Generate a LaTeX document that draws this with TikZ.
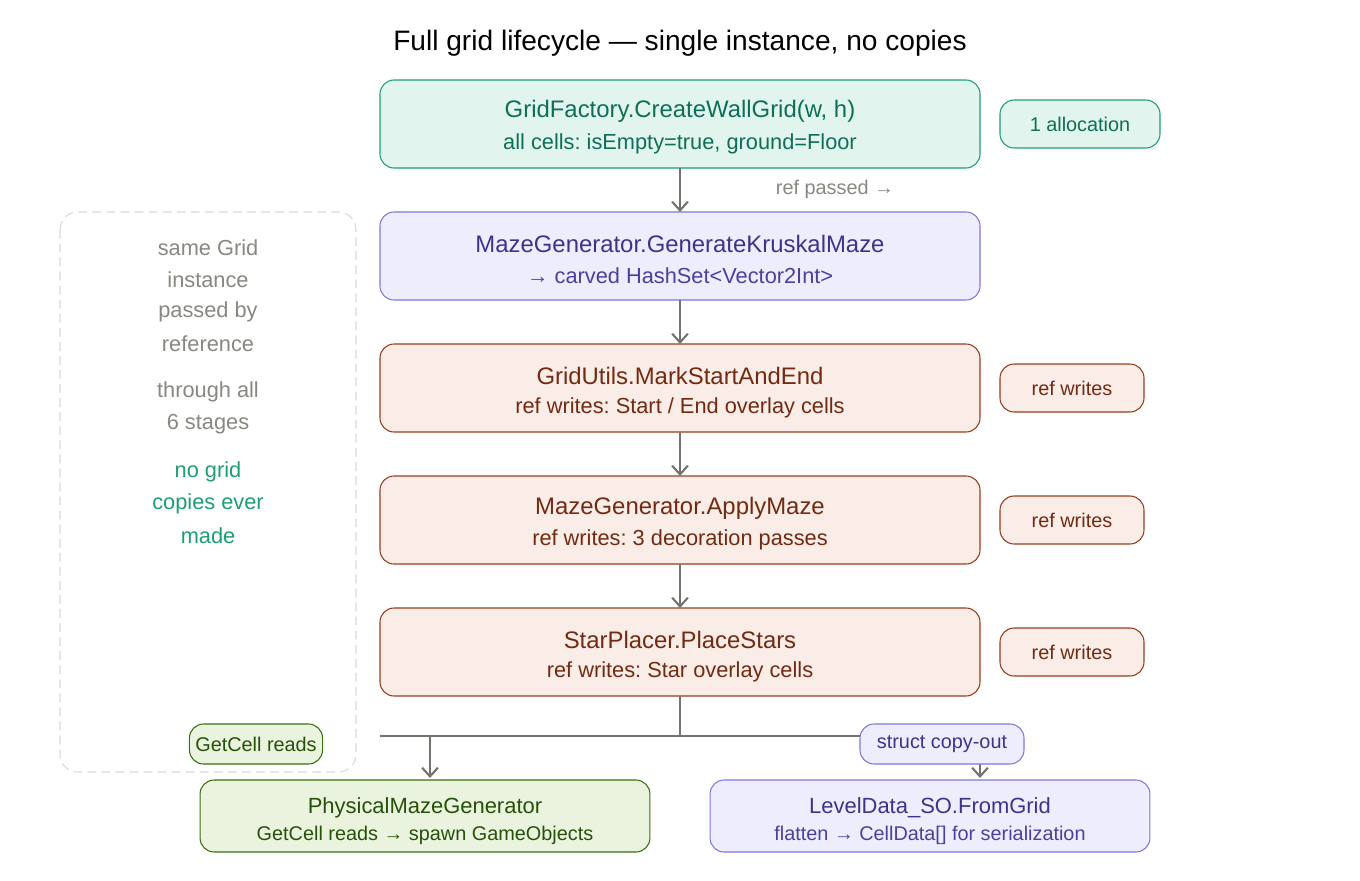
\documentclass[tikz,border=0pt]{standalone}
\usepackage{fontspec}
\setmainfont{Liberation Sans}
\frenchspacing
\usetikzlibrary{arrows.meta,calc}
\definecolor{tealfill}{HTML}{E1F5EE}\definecolor{tealline}{HTML}{1D9E75}\definecolor{tealtext}{HTML}{0F6E56}
\definecolor{purpfill}{HTML}{EEEDFE}\definecolor{purpline}{HTML}{7F77DD}\definecolor{purptext}{HTML}{3C3489}
\definecolor{corfill}{HTML}{FAECE7}\definecolor{corline}{HTML}{993C1D}\definecolor{cortext}{HTML}{712B13}
\definecolor{limefill}{HTML}{EAF3DE}\definecolor{limeline}{HTML}{3B6D11}\definecolor{limetext}{HTML}{27500A}
\definecolor{graytext}{HTML}{888780}
\tikzset{line cap=round,line join=round}
\tikzset{
  box/.style={draw,rounded corners=8pt,line width=0.6pt},
  teal/.style={box,fill=tealfill,draw=tealline,text=tealtext},
  purp/.style={box,fill=purpfill,draw=purpline,text=purptext},
  cor/.style={box,fill=corfill,draw=corline,text=cortext},
  lime/.style={box,fill=limefill,draw=limeline,text=limetext},
  flow/.style={draw=graytext!85!black,line width=1.2pt,-{Straight Barb[length=5pt,width=9pt]}},
  big/.style={font=\fontsize{13.6}{16}\selectfont},
  sub/.style={font=\fontsize{12.4}{14}\selectfont},
  tag/.style={font=\fontsize{11.3}{13}\selectfont},
  bigb/.style={font=\fontsize{12.5}{15}\selectfont},
  subb/.style={font=\fontsize{11.3}{13}\selectfont},
}
\begin{document}
\begin{tikzpicture}[x=0.02cm,y=-0.02cm]
    \useasboundingbox (0,0) rectangle (1360,880);
    \node[name=title,font=\fontsize{16}{19}\selectfont] at (680,43) {Full grid lifecycle — single instance, no copies};
    % side panel
    \draw[rounded corners=10pt,dash pattern=on 5pt off 3pt,draw=black!15,line width=0.6pt] (60,212) rectangle (356,772);
    \foreach \t/\y/\c in {same Grid/248/graytext,instance/280/graytext,passed by/312/graytext,reference/344/graytext,
        through all/392/graytext,6 stages/424/graytext,no grid/472/tealline,copies ever/504/tealline,made/536/tealline}
    {\node[sub,text=\c] at (208,\y) {\t};}
    % main stages
    \path[teal] (380,80) rectangle (980,168) coordinate (s1);
    \node[name=s1a,big,text=tealtext] at (680,111) {GridFactory.CreateWallGrid(w, h)};
    \node[name=s1b,sub,text=tealtext] at (680,144) {all cells: isEmpty=true, ground=Floor};
    \path[purp] (380,212) rectangle (980,300);
    \node[name=s2a,big,text=purptext] at (680,244) {MazeGenerator.GenerateKruskalMaze};
    \node[name=s2b,sub,text=purptext!80!purpline] at (680,276) {→ carved HashSet<Vector2Int>};
    \foreach \i/\y/\a/\b in {3/344/GridUtils.MarkStartAndEnd/{ref writes: Start / End overlay cells},
        4/476/MazeGenerator.ApplyMaze/{ref writes: 3 decoration passes},
        5/608/StarPlacer.PlaceStars/{ref writes: Star overlay cells}}
    {%
    \path[cor] (380,\y) rectangle (980,\y+88);
    \node[big,text=cortext] at (680,\y+32) {\a};
    \node[sub,text=cortext] at (680,\y+64) {\b};
    \node[name=w\i,cor,tag,minimum width=2.88cm,minimum height=0.96cm] at (1072,\y+44) {ref writes};
    }
    \node[name=alloc,teal,tag,minimum width=3.2cm,minimum height=0.96cm] at (1080,124) {1 allocation};
    \node[name=refp,tag,text=graytext] at (835,189) {ref passed →};
    % coordinates on stage edges
    \foreach \i/\y in {1/168,2/300,3/432,4/564,5/696}{\coordinate (b\i) at (680,\y);}
    \foreach \i/\y in {2/212,3/344,4/476,5/608}{\coordinate (t\i) at (680,\y);}
    \foreach \i/\j in {1/2,2/3,3/4,4/5}{\draw[flow] (b\i) -- (t\j);}
    % split to consumers
    \node[name=phys,lime,minimum width=9cm,minimum height=1.44cm,align=center] at (425,816) {};
    \node[bigb,text=limetext] at (425,808) {PhysicalMazeGenerator};
    \node[subb,text=limetext] at (425,835) {GetCell reads → spawn GameObjects};
    \node[name=lvl,purp,minimum width=8.8cm,minimum height=1.44cm] at (930,816) {};
    \node[bigb,text=purptext] at (930,808) {LevelData\_SO.FromGrid};
    \node[subb,text=purptext!80!purpline] at (930,835) {flatten → CellData[] for serialization};
    \coordinate (split) at (680,736);
    \coordinate (left) at (380,736);
    \coordinate (right) at (980,736);
    \draw[draw=graytext!85!black,line width=1.2pt] (b5) -- (split);
    \draw[draw=graytext!85!black,line width=1.2pt] (left) -- (right);
    \draw[flow] (430,736) -- (430,778);
    \draw[flow] (right) -- (980,778);
    \node[name=getc,lime,subb,minimum width=2.56cm,minimum height=0.8cm] at (256,744) {GetCell reads};
    \node[name=copy,purp,subb,minimum width=3.28cm,minimum height=0.8cm] at (942,744) {struct copy-out};
\end{tikzpicture}
\end{document}
